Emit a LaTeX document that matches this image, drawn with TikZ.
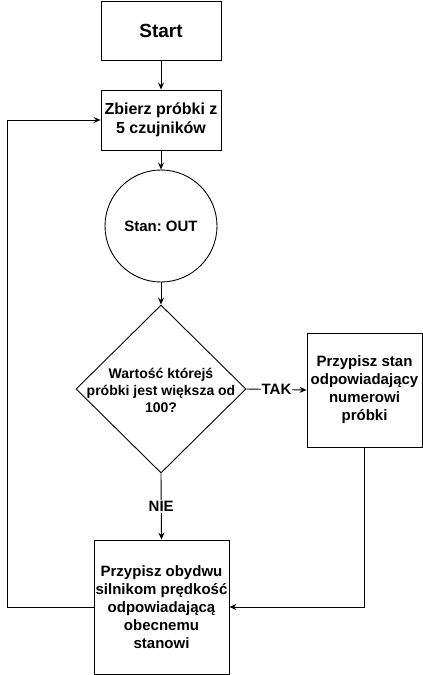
\documentclass[tikz,border=0pt]{standalone}
\usepackage{fontspec}
\setmainfont{Liberation Sans}
\usetikzlibrary{arrows.meta,shapes.geometric}
\frenchspacing
\begin{document}
\begin{tikzpicture}[x=1pt,y=-1pt,
  every node/.style={font=\bfseries},
  box/.style={draw,line width=0.9pt,inner sep=0pt,align=center,font=\bfseries\fontsize{15}{18}\selectfont},
  roundbox/.style={draw,circle,line width=0.9pt,inner sep=0pt,minimum size=112pt,font=\bfseries\fontsize{15}{18}\selectfont},
  decision/.style={draw,diamond,line width=0.9pt,inner sep=0pt,minimum width=170pt,minimum height=168pt},
  dectext/.style={align=center,inner sep=0pt,font=\bfseries\fontsize{14}{17}\selectfont},
  edgelabel/.style={fill=white,inner sep=1pt,font=\bfseries\fontsize{15}{18}\selectfont},
  conn/.style={line width=0.9pt,-{Stealth[length=7pt,width=6pt,inset=2.5pt]}}
]
\useasboundingbox (0,0) rectangle (423,675);
\node[box,minimum width=120pt,minimum height=59pt,font=\bfseries\fontsize{19}{23}\selectfont] (start) at (161,30.5) {Start};
\node[box,minimum width=120pt,minimum height=60pt,font=\bfseries\fontsize{16}{19}\selectfont] (zbierz) at (161,120) {Zbierz próbki z\\5 czujników};
\node[roundbox] (stan) at (161,226) {Stan: OUT};
\node[decision] (dec) at (161,389) {};
\node[dectext] (dectxt) at (161,390) {Wartość którejś\\próbki jest większa od\\100?};
\node[box,minimum width=115pt,minimum height=114pt] (assign) at (364.5,390) {Przypisz stan\\odpowiadający\\numerowi\\próbki};
\node[box,minimum width=135pt,minimum height=134pt] (speed) at (161.5,607) {Przypisz obydwu\\silnikom prędkość\\odpowiadającą\\obecnemu\\stanowi};
\coordinate (loopcorner) at (7,607);

\draw[conn] (start.south) -- (zbierz.north);
\draw[conn] (zbierz.south) -- (stan.north);
\draw[conn] (stan.south) -- (dec.north);
\draw[conn] (dec.east) -- node[edgelabel] (tak) {TAK} (assign.west);
\draw[conn] (dec.south) -- node[edgelabel] (nie) {NIE} (speed.north);
\draw[conn] (assign.south) |- (speed.east);
\draw[conn] (speed.west) -- (loopcorner) |- (zbierz.west);
\end{tikzpicture}
\end{document}
